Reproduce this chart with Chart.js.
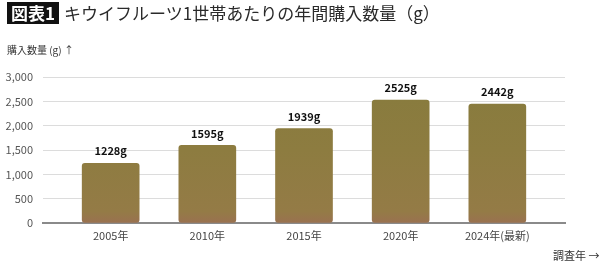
<!DOCTYPE html>
<html>
<head>
<meta charset="utf-8">
<script src="https://cdn.jsdelivr.net/npm/chart.js@4"></script>
<style>
  html, body { margin: 0; padding: 0; background: #fff; }
  #wrap { position: relative; width: 600px; height: 266px; font-family: "Noto Sans CJK JP", "Noto Sans", sans-serif; }
  #chart { position: absolute; left: 0; top: 0; }
  .title { position: absolute; left: 7px; top: 2px; font-size: 17px; color: #2a2a2a; white-space: nowrap; line-height: 22px; }
  .badge { display: inline-block; background: #111; color: #fff; font-weight: 700; padding: 0 4px; margin-right: 5px; }
  .ytitle { position: absolute; left: 7px; top: 42px; font-size: 10px; color: #333; }
  .xtitle { position: absolute; left: 553px; top: 247px; font-size: 11px; color: #333; }
</style>
</head>
<body>
<div id="wrap">
  <canvas id="chart" width="600" height="266"></canvas>
  <div class="title"><span class="badge">図表1</span>キウイフルーツ1世帯あたりの年間購入数量（g）</div>
  <div class="ytitle">購入数量 (g) ↑</div>
  <div class="xtitle">調査年 →</div>
</div>
<script>
const years = ['2005年', '2010年', '2015年', '2020年', '2024年(最新)'];
const amounts = [1228, 1595, 1939, 2525, 2442];
const yTicks = [0, 500, 1000, 1500, 2000, 2500, 3000];

const valueLabels = {
    id: 'valueLabels',
    afterDatasetsDraw(chart) {
        const ctx = chart.ctx;
        const meta = chart.getDatasetMeta(0);
        ctx.save();
        ctx.font = 'bold 11px "Noto Sans CJK JP", sans-serif';
        ctx.fillStyle = '#111';
        ctx.textAlign = 'center';
        ctx.textBaseline = 'middle';
        meta.data.forEach((bar, i) => {
            ctx.fillText(amounts[i] + 'g', bar.x, bar.y - 12);
        });
        ctx.restore();
    }
};

function barFill(context) {
    const area = context.chart.chartArea;
    if (!area) return '#8b7b3f';
    const g = context.chart.ctx.createLinearGradient(0, area.top, 0, area.bottom);
    g.addColorStop(0, '#877b3d');
    g.addColorStop(0.5, '#8d7c40');
    g.addColorStop(0.92, '#947b46');
    g.addColorStop(1, '#9a7150');
    return g;
}

new Chart(document.getElementById('chart'), {
    type: 'bar',
    data: {
        datasets: [{
            data: amounts.map((v, i) => ({ x: i, y: v })),
            backgroundColor: barFill,
            borderRadius: 3,
            borderSkipped: false,
            barThickness: 57,
        }],
    },
    plugins: [valueLabels],
    options: {
        responsive: false,
        animation: false,
        layout: { padding: { top: 77, right: 35, left: 0, bottom: 0 } },
        plugins: { legend: { display: false }, tooltip: { enabled: false } },
        scales: {
            x: {
                type: 'linear',
                offset: false,
                min: -0.7,
                max: 4.7,
                afterBuildTicks: scale => {
                    scale.ticks = years.map((y, i) => ({ value: i }));
                },
                afterFit: scale => { scale.height = 43; },
                grid: { display: false, drawTicks: false, offset: false },
                border: { display: true, color: '#8a8a8a', width: 2 },
                ticks: {
                    padding: 6,
                    color: '#444',
                    font: { family: '"Noto Sans CJK JP", sans-serif', size: 11 },
                    callback: v => years[v] ?? '',
                },
            },
            y: {
                min: 0,
                max: 3000,
                afterBuildTicks: scale => {
                    scale.ticks = yTicks.map(v => ({ value: v }));
                },
                afterFit: scale => { scale.width = 43; },
                grid: {
                    color: '#dcdcdc',
                    lineWidth: 1,
                    drawTicks: false,
                },
                border: { display: false },
                ticks: {
                    padding: 10,
                    color: '#555',
                    font: { family: '"Noto Sans CJK JP", sans-serif', size: 11 },
                    callback: v => v.toLocaleString('en-US'),
                },
            },
        },
    },
});
</script>
</body>
</html>
